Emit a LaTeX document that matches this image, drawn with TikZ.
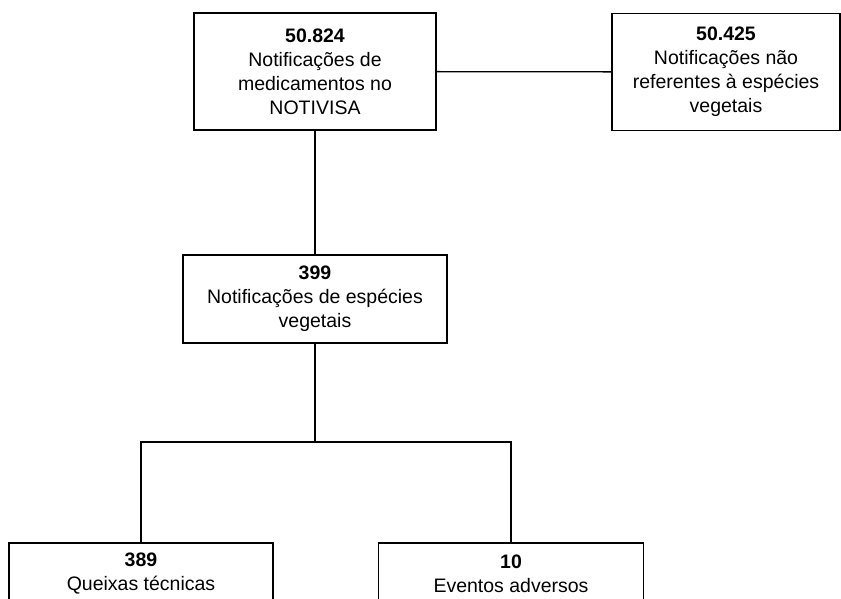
\documentclass[tikz,border=0pt]{standalone}
\usepackage{fontspec}
\setmainfont{Liberation Sans}

\begin{document}
\begin{tikzpicture}
  [x=1pt,y=-1pt,line width=1.3pt,every node/.style={draw,inner sep=0pt,align=center,font=\fontsize{19.5}{24}\selectfont}]
  \useasboundingbox (0,0) rectangle (841,599);
  \clip (0,0) rectangle (841,599);
  \node[minimum width=242pt,minimum height=117pt] (notivisa) at (315,71.5) {\textbf{50.824}\\Notificações de\\medicamentos no\\NOTIVISA};
  \node[minimum width=228pt,minimum height=117pt] (naoveg) at (726,72) {\textbf{50.425}\\Notificações não\\referentes à espécies\\vegetais};
  \node[minimum width=264pt,minimum height=88pt] (especies) at (315,299) {\textbf{399}\\Notificações de espécies\\vegetais};
  \node[minimum width=264pt,minimum height=62pt] (queixas) at (141,574) {\textbf{389}\\Queixas técnicas};
  \node[minimum width=265pt,minimum height=62pt] (eventos) at (511,574) {\textbf{10}\\Eventos adversos};
  \coordinate (split) at (315,442);

  \foreach \from/\to in {notivisa/naoveg,notivisa/especies,especies/split}
    \draw (\from) -- (\to);
  \foreach \to in {queixas,eventos}
    \draw (split) -| (\to);
\end{tikzpicture}
\end{document}
